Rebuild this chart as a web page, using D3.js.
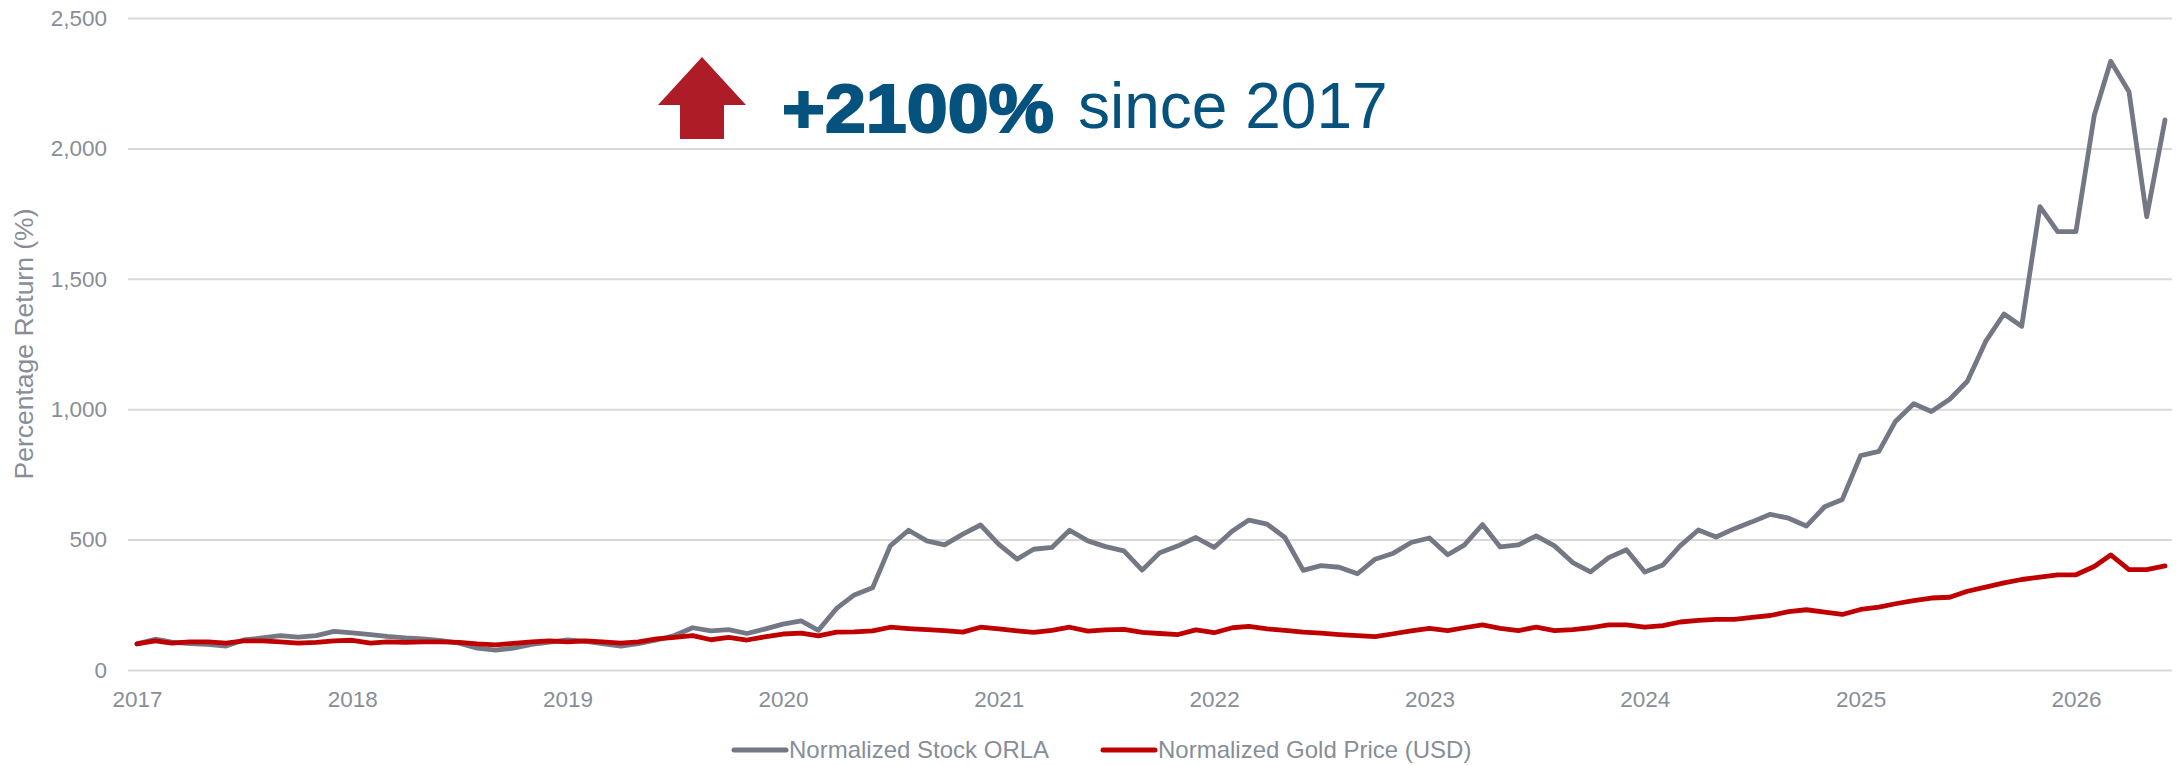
<!DOCTYPE html>
<html>

<head>
    <meta charset="utf-8">
    <title>ORLA vs Gold</title>
    <style>
        body { margin: 0; background: #fff; }
        text { font-family: "Liberation Sans", Arial, sans-serif; }
    </style>
</head>

<body>
    <script src="https://d3js.org/d3.v7.min.js"></script>
    <script>
    // monthly points, Jan 2017 .. Jun 2026
    var months = d3.timeMonth.range(new Date(2017, 0, 1), new Date(2026, 6, 1));

    var stockOrla = [
        100, 118, 107, 101, 98, 92, 115, 123, 132, 126, 132, 148,
        142, 136, 129, 123, 119, 113, 103, 84, 76, 84, 98, 107,
        115, 110, 101, 92, 101, 115, 132, 162, 150, 155, 140, 157,
        176, 188, 152, 236, 288, 315, 476, 536, 495, 480, 521, 556,
        482, 425, 463, 470, 536, 495, 473, 457, 383, 450, 476, 508,
        470, 533, 575, 559, 508, 382, 400, 394, 369, 425, 448, 489,
        506, 442, 479, 558, 472, 480, 514, 476, 412, 376, 431, 461,
        376, 403, 476, 537, 510, 542, 568, 597, 582, 552, 626, 654,
        822, 838, 953, 1021, 991, 1038, 1107, 1260, 1365, 1318, 1777, 1681,
        1681, 2126, 2334, 2217, 1738, 2109
    ];

    var goldUsd = [
        100, 112, 103, 108, 108, 103, 112, 112, 108, 103, 106, 112,
        114, 103, 108, 106, 108, 108, 106, 100, 96, 102, 108, 112,
        108, 112, 108, 103, 108, 119, 125, 132, 116, 125, 115, 127,
        138, 141, 131, 145, 146, 150, 164, 159, 155, 151, 145, 164,
        158, 150, 144, 152, 164, 149, 154, 156, 144, 140, 136, 154,
        143, 162, 167, 158, 152, 145, 141, 136, 132, 128, 139, 150,
        160, 151, 162, 173, 160, 151, 164, 151, 155, 162, 173, 173,
        164, 170, 184, 190, 194, 194, 202, 209, 224, 231, 222, 213,
        232, 241, 254, 266, 276, 279, 302, 318, 334, 347, 356, 365,
        365, 397, 441, 385, 385, 399
    ];

    var seriesNames = ["Normalized Stock ORLA", "Normalized Gold Price (USD)"];
    var seriesColors = ["#737884", "#c00000"];
    var yTicks = [0, 500, 1000, 1500, 2000, 2500];

    const W = 2178;
    const H = 765;
    const gridLeft = 128, gridRight = 2172;
    const textGray = "#878e97";

    const svg = d3.select("body")
        .append("svg")
        .attr("width", W)
        .attr("height", H);

    var x = d3.scaleTime()
        .domain([months[0], months[months.length - 1]])
        .range([137, 2165]);

    var y = d3.scaleLinear()
        .domain([0, 2500])
        .range([670, 18]);

    // gridlines + y labels
    var yAxis = svg.append("g")
        .attr("transform", "translate(" + gridLeft + ",0)")
        .call(d3.axisLeft(y)
            .tickValues(yTicks)
            .tickFormat(d3.format(","))
            .tickSize(-(gridRight - gridLeft))
            .tickPadding(21));
    yAxis.select(".domain").remove();
    yAxis.selectAll("line").attr("stroke", "#d9d9d9").attr("stroke-width", 2);
    yAxis.selectAll("text")
        .attr("fill", textGray)
        .style("font-size", "22.5px");

    // x labels
    var xAxis = svg.append("g")
        .attr("transform", "translate(0," + y(0) + ")")
        .call(d3.axisBottom(x)
            .ticks(d3.timeYear.every(1))
            .tickFormat(d3.timeFormat("%Y"))
            .tickSize(0)
            .tickPadding(21));
    xAxis.select(".domain").remove();
    xAxis.selectAll("text")
        .attr("fill", textGray)
        .style("font-size", "22.5px");

    // axis title
    svg.append("text")
        .attr("transform", "translate(33,344) rotate(-90)")
        .attr("text-anchor", "middle")
        .attr("fill", textGray)
        .style("font-size", "26.5px")
        .text("Percentage Return (%)");

    // lines
    var line = d3.line()
        .x(function(d, i) { return x(months[i]); })
        .y(function(d) { return y(d); });

    [stockOrla, goldUsd].forEach(function(vals, k) {
        svg.append("path")
            .datum(vals)
            .attr("fill", "none")
            .attr("stroke", seriesColors[k])
            .attr("stroke-width", 4.8)
            .attr("stroke-linejoin", "round")
            .attr("stroke-linecap", "round")
            .attr("d", line);
    });

    // headline
    var ax = 702, ay = 57;
    svg.append("path")
        .attr("d", "M" + ax + "," + ay +
            " L" + (ax + 44) + "," + (ay + 48) +
            " L" + (ax + 22) + "," + (ay + 48) +
            " L" + (ax + 22) + "," + (ay + 82) +
            " L" + (ax - 22) + "," + (ay + 82) +
            " L" + (ax - 22) + "," + (ay + 48) +
            " L" + (ax - 44) + "," + (ay + 48) + " Z")
        .attr("fill", "#ae1c28");

    svg.append("text")
        .attr("x", 782)
        .attr("y", 132)
        .attr("fill", "#06527f")
        .attr("stroke", "#06527f")
        .attr("stroke-width", 2)
        .attr("textLength", 272)
        .attr("lengthAdjust", "spacingAndGlyphs")
        .style("font-size", "68px")
        .style("font-weight", "bold")
        .text("+2100%");

    svg.append("text")
        .attr("x", 1078)
        .attr("y", 128)
        .attr("fill", "#06527f")
        .style("font-size", "64px")
        .text("since 2017");

    // legend
    var legendX = [732, 1101];
    seriesNames.forEach(function(name, k) {
        var g = svg.append("g")
            .attr("transform", "translate(" + legendX[k] + ",750)");
        g.append("line")
            .attr("x1", 2).attr("x2", 54)
            .attr("stroke", seriesColors[k])
            .attr("stroke-width", 5)
            .attr("stroke-linecap", "round");
        g.append("text")
            .attr("x", 57)
            .attr("dy", "0.35em")
            .attr("fill", textGray)
            .style("font-size", "24px")
            .text(name);
    });
    </script>
</body>

</html>
